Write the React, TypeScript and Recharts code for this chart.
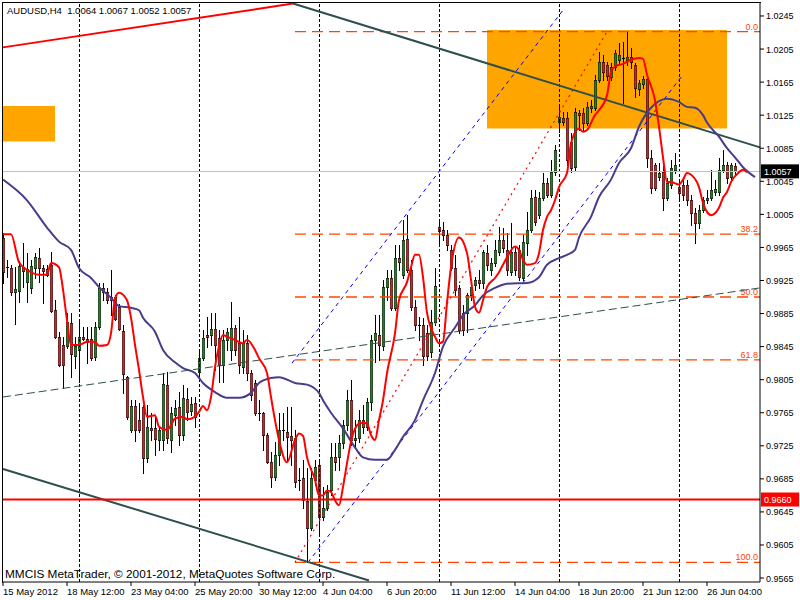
import React from "react";
import {
  ComposedChart,
  Bar,
  Line,
  XAxis,
  YAxis,
  ReferenceLine,
  ReferenceArea,
  ReferenceDot,
} from "recharts";

// AUDUSD H4, one entry per bar (bar 0 = 15 May 2012 20:00)
const symbol = "AUDUSD,H4";

const opens = [
  0.9976, 0.994, 0.994, 0.9911, 0.9912, 0.9941, 0.9923, 0.9916, 0.994, 0.9952,
  0.994, 0.9939, 0.9944, 0.9889, 0.9857, 0.9847, 0.9846, 0.9874, 0.9834, 0.9841,
  0.9857, 0.9854, 0.9854, 0.9832, 0.9869, 0.9916, 0.9911, 0.9905, 0.9905, 0.9893,
  0.9864, 0.9808, 0.9744, 0.9773, 0.9756, 0.9772, 0.971, 0.9746, 0.9746, 0.9732,
  0.9732, 0.9799, 0.9732, 0.9762, 0.9772, 0.9738, 0.9782, 0.9767, 0.9777, 0.9814,
  0.9831, 0.9859, 0.9859, 0.9866, 0.9855, 0.9823, 0.9853, 0.9841, 0.9868, 0.9849,
  0.982, 0.9849, 0.9813, 0.9801, 0.9765, 0.9765, 0.9738, 0.9705, 0.9687, 0.9714,
  0.9744, 0.9742, 0.9737, 0.9734, 0.9684, 0.9686, 0.9658, 0.9626, 0.9684, 0.9702,
  0.9639, 0.965, 0.9672, 0.9711, 0.9711, 0.9728, 0.975, 0.978, 0.9732, 0.9734,
  0.9756, 0.9748, 0.9778, 0.9853, 0.9859, 0.9846, 0.9917, 0.9928, 0.9892, 0.9952,
  0.9932, 0.9975, 0.9938, 0.9893, 0.9871, 0.9871, 0.9861, 0.9838, 0.9875, 0.999,
  0.9986, 0.998, 0.9962, 0.994, 0.9916, 0.9886, 0.9886, 0.9907, 0.992, 0.9926,
  0.9922, 0.9958, 0.9938, 0.9946, 0.996, 0.9974, 0.9962, 0.9935, 0.996, 0.9962,
  0.9928, 0.997, 0.9986, 1.0026, 1.0004, 1.0025, 1.0043, 1.0028, 1.0056, 1.0117,
  1.0122, 1.0122, 1.0093, 1.0062, 1.0128, 1.0128, 1.0116, 1.0134, 1.0134, 1.0168,
  1.0189, 1.0186, 1.0171, 1.0183, 1.0192, 1.0194, 1.0192, 1.0195, 1.0186, 1.0157,
  1.0163, 1.0169, 1.0073, 1.0065, 1.005, 1.0056, 1.0025, 1.0041, 1.0059, 1.0038,
  1.0041, 1.0041, 1.0022, 1.0007, 0.9995, 1.001, 1.0022, 1.0025, 1.0032, 1.0032,
  1.0059, 1.0065, 1.005, 1.0064,
];

const highs = [
  0.9982, 0.995, 0.9944, 0.9941, 0.9949, 0.997, 0.9958, 0.995, 0.9958, 0.9964,
  0.9944, 0.9944, 0.996, 0.9901, 0.9863, 0.9857, 0.9886, 0.9886, 0.9857, 0.9875,
  0.9869, 0.9869, 0.9869, 0.9875, 0.9922, 0.9922, 0.9916, 0.9938, 0.9907, 0.9897,
  0.9871, 0.981, 0.978, 0.978, 0.9777, 0.9774, 0.9774, 0.9765, 0.976, 0.9748,
  0.9813, 0.9814, 0.9772, 0.978, 0.979, 0.9799, 0.9795, 0.9784, 0.9784, 0.9841,
  0.9865, 0.9881, 0.9886, 0.9886, 0.9865, 0.9865, 0.9868, 0.9899, 0.9871, 0.9881,
  0.9865, 0.9859, 0.9817, 0.9805, 0.978, 0.9766, 0.974, 0.9717, 0.973, 0.9765,
  0.9765, 0.9772, 0.9772, 0.9744, 0.9698, 0.9708, 0.9698, 0.9698, 0.9708, 0.9708,
  0.9675, 0.9678, 0.9728, 0.9728, 0.9738, 0.9756, 0.9792, 0.9805, 0.9756, 0.9768,
  0.9774, 0.9783, 0.9859, 0.9883, 0.9883, 0.9926, 0.9938, 0.9938, 0.9968, 0.9968,
  0.9998, 1.0004, 0.995, 0.9901, 0.9881, 0.988, 0.9871, 0.9889, 0.994, 0.9996,
  0.9996, 0.9986, 0.9968, 0.9956, 0.992, 0.9895, 0.991, 0.9926, 0.9929, 0.9938,
  0.9962, 0.9968, 0.9952, 0.9974, 0.999, 0.9989, 0.9982, 0.9995, 0.9966, 0.9968,
  0.998, 1.0008, 1.0035, 1.0035, 1.0032, 1.0055, 1.0049, 1.0071, 1.0089, 1.0137,
  1.0129, 1.0129, 1.0103, 1.0134, 1.0131, 1.0134, 1.0141, 1.0143, 1.0174, 1.0201,
  1.0198, 1.0189, 1.0188, 1.0204, 1.0212, 1.0214, 1.0226, 1.0206, 1.0188, 1.0168,
  1.0172, 1.0172, 1.0083, 1.0067, 1.0067, 1.0067, 1.0049, 1.0071, 1.0079, 1.0047,
  1.0049, 1.0047, 1.0028, 1.0013, 1.0016, 1.0026, 1.0035, 1.0059, 1.0047, 1.0073,
  1.0083, 1.0068, 1.0067, 1.0067,
];

const lows = [
  0.9922, 0.9929, 0.9907, 0.9872, 0.9899, 0.9917, 0.9899, 0.991, 0.9928, 0.9923,
  0.9898, 0.993, 0.9887, 0.9855, 0.9821, 0.9795, 0.9843, 0.9808, 0.9819, 0.9802,
  0.9853, 0.9825, 0.9829, 0.9829, 0.9866, 0.9901, 0.9898, 0.9883, 0.9877, 0.9865,
  0.9789, 0.9757, 0.9742, 0.9731, 0.9742, 0.9692, 0.9705, 0.9732, 0.9714, 0.972,
  0.972, 0.9728, 0.9717, 0.975, 0.9726, 0.9732, 0.9756, 0.9762, 0.9748, 0.9807,
  0.9829, 0.9845, 0.9847, 0.9817, 0.9802, 0.9802, 0.9841, 0.9829, 0.9835, 0.9813,
  0.9813, 0.9805, 0.978, 0.9762, 0.9756, 0.972, 0.9704, 0.9675, 0.9684, 0.9702,
  0.9732, 0.9708, 0.9702, 0.9675, 0.9672, 0.965, 0.9584, 0.9623, 0.9678, 0.9617,
  0.9635, 0.9647, 0.9665, 0.9696, 0.9696, 0.9722, 0.9744, 0.9726, 0.9722, 0.973,
  0.974, 0.9744, 0.9768, 0.9826, 0.9829, 0.9841, 0.9901, 0.9889, 0.9889, 0.9938,
  0.9928, 0.9935, 0.9889, 0.9865, 0.9853, 0.9823, 0.9829, 0.9832, 0.9871, 0.9968,
  0.9974, 0.9962, 0.9938, 0.9907, 0.9861, 0.9859, 0.9863, 0.9901, 0.9914, 0.9916,
  0.9916, 0.9938, 0.9932, 0.9942, 0.9956, 0.996, 0.9932, 0.9932, 0.9932, 0.9926,
  0.9926, 0.9956, 0.9984, 0.9992, 1.0001, 1.0022, 1.0026, 1.0026, 1.0053, 1.0105,
  1.0113, 1.0059, 1.0056, 1.0059, 1.0107, 1.0107, 1.0113, 1.0129, 1.0131, 1.0165,
  1.0168, 1.0168, 1.0168, 1.018, 1.0188, 1.014, 1.0186, 1.0182, 1.0147, 1.0149,
  1.0158, 1.0062, 1.0031, 1.0035, 1.0047, 1.001, 1.0022, 1.0037, 1.0055, 1.0022,
  1.0022, 1.0016, 0.9992, 0.997, 0.9989, 1.0008, 1.0019, 1.0022, 1.0028, 1.0028,
  1.0056, 1.0043, 1.0047, 1.0052,
];

const closes = [
  0.9935, 0.9941, 0.9911, 0.9915, 0.9942, 0.9936, 0.9939, 0.9942, 0.9953, 0.994,
  0.9936, 0.9932, 0.9888, 0.9857, 0.9823, 0.9823, 0.9875, 0.9836, 0.9846, 0.9857,
  0.9854, 0.9851, 0.9831, 0.9869, 0.9916, 0.9911, 0.9901, 0.9901, 0.9878, 0.9866,
  0.9812, 0.976, 0.9773, 0.9744, 0.9744, 0.971, 0.9748, 0.9744, 0.9733, 0.9744,
  0.98, 0.9734, 0.9765, 0.9771, 0.9738, 0.9783, 0.9766, 0.9776, 0.976, 0.9831,
  0.9855, 0.9857, 0.9866, 0.9847, 0.9823, 0.9853, 0.9863, 0.9868, 0.9841, 0.9823,
  0.9849, 0.9813, 0.9786, 0.9765, 0.9763, 0.9738, 0.9705, 0.9687, 0.9714, 0.9744,
  0.9743, 0.9736, 0.9732, 0.9681, 0.9682, 0.9659, 0.9626, 0.9686, 0.9699, 0.9639,
  0.965, 0.9669, 0.9711, 0.9705, 0.9728, 0.975, 0.978, 0.9732, 0.9734, 0.9756,
  0.9748, 0.9778, 0.9853, 0.9861, 0.9847, 0.9917, 0.9928, 0.9892, 0.9952, 0.9947,
  0.9974, 0.9938, 0.9893, 0.9871, 0.987, 0.9834, 0.9834, 0.9875, 0.9918, 0.9985,
  0.998, 0.9968, 0.994, 0.9914, 0.9865, 0.9865, 0.9907, 0.9917, 0.9926, 0.9922,
  0.996, 0.9944, 0.9946, 0.9962, 0.9974, 0.9964, 0.9938, 0.996, 0.9938, 0.9929,
  0.9972, 0.9986, 1.0025, 0.9996, 1.0025, 1.0043, 1.0028, 1.0056, 1.0083, 1.0123,
  1.0117, 1.0071, 1.0061, 1.0129, 1.0125, 1.0116, 1.0135, 1.0136, 1.0168, 1.0189,
  1.0177, 1.0172, 1.0183, 1.02, 1.0198, 1.0193, 1.0195, 1.0189, 1.0158, 1.0164,
  1.0169, 1.0073, 1.0037, 1.0037, 1.0055, 1.0025, 1.0043, 1.0061, 1.0065, 1.0031,
  1.0028, 1.0022, 1.0007, 0.9995, 1.001, 1.0022, 1.0025, 1.0035, 1.0036, 1.0059,
  1.0065, 1.0049, 1.0065, 1.0057,
];

// [bar, price] samples of the two moving averages (both drawn shifted forward)
const fastMa = [
  [0, 0.9981], [2, 0.9981], [4, 0.9947], [6, 0.9938], [9, 0.9932], [11, 0.9932],
  [12, 0.9946], [14, 0.9941], [15, 0.9914], [16, 0.9877], [17, 0.9847], [19, 0.9847],
  [21, 0.9851], [23, 0.9851], [24, 0.9846], [26, 0.9847], [27, 0.9861], [28, 0.9903],
  [29, 0.991], [31, 0.9901], [32, 0.988], [33, 0.9847], [34, 0.9817], [35, 0.9784],
  [36, 0.976], [38, 0.9762], [39, 0.9748], [41, 0.9744], [42, 0.975], [43, 0.9758],
  [45, 0.976], [46, 0.9757], [48, 0.976], [49, 0.9766], [50, 0.9773], [51, 0.9768],
  [52, 0.9784], [53, 0.982], [54, 0.9845], [55, 0.9859], [56, 0.9857], [58, 0.9853],
  [60, 0.9849], [61, 0.9853], [63, 0.9841], [64, 0.9831], [66, 0.9813], [67, 0.9784],
  [68, 0.9756], [69, 0.9732], [71, 0.9705], [73, 0.9732], [74, 0.974], [75, 0.9737],
  [76, 0.9711], [78, 0.9684], [79, 0.9665], [80, 0.9665], [81, 0.9671], [82, 0.9669],
  [83, 0.9659], [84, 0.9653], [85, 0.9675], [86, 0.9704], [87, 0.973], [89, 0.9752],
  [90, 0.9753], [91, 0.9752], [92, 0.9738], [93, 0.9732], [94, 0.9756], [95, 0.978],
  [96, 0.9813], [98, 0.9861], [99, 0.9901], [101, 0.9923], [102, 0.9941], [103, 0.9956],
  [104, 0.9956], [105, 0.9929], [106, 0.9886], [108, 0.9857], [109, 0.9849], [110, 0.9851],
  [111, 0.9898], [112, 0.9941], [114, 0.9977], [116, 0.9958], [117, 0.9926], [118, 0.9893],
  [119, 0.9886], [120, 0.9901], [121, 0.9917], [123, 0.9928], [124, 0.9935], [125, 0.9944],
  [126, 0.9953], [128, 0.9966], [129, 0.9962], [130, 0.995], [131, 0.9944], [133, 0.9946],
  [134, 0.9958], [135, 0.9986], [136, 1.0002], [137, 1.001], [138, 1.0022], [139, 1.0038],
  [141, 1.0055], [142, 1.0091], [144, 1.0109], [145, 1.0105], [146, 1.0107], [148, 1.0125],
  [149, 1.0131], [151, 1.0149], [152, 1.0177], [153, 1.0184], [155, 1.0187], [157, 1.0192],
  [159, 1.0194], [160, 1.0193], [161, 1.0174], [163, 1.0143], [164, 1.0111], [165, 1.0074],
  [166, 1.0044], [167, 1.0044], [169, 1.0041], [170, 1.0047], [171, 1.0055], [172, 1.0053],
  [174, 1.0038], [175, 1.0019], [176, 1.0008], [177, 1.0004], [179, 1.0013], [180, 1.0025],
  [181, 1.0032], [182, 1.0044], [184, 1.0056], [185, 1.0059], [186, 1.0056],
];

const slowMa = [
  [0, 1.0047], [6, 1.0022], [11, 0.9989], [14, 0.9972], [17, 0.9962], [19, 0.994],
  [22, 0.9928], [24, 0.9917], [27, 0.9904], [29, 0.9894], [32, 0.9892], [34, 0.9889],
  [35, 0.988], [38, 0.9863], [40, 0.9841], [43, 0.9826], [45, 0.9819], [48, 0.9813],
  [50, 0.9801], [53, 0.979], [56, 0.9783], [59, 0.9783], [62, 0.9789], [64, 0.9801],
  [67, 0.9807], [69, 0.9808], [73, 0.9801], [76, 0.9799], [79, 0.9789], [80, 0.978],
  [82, 0.9765], [85, 0.9746], [88, 0.9723], [90, 0.9711], [93, 0.9708], [96, 0.9708],
  [98, 0.972], [100, 0.9736], [103, 0.9756], [105, 0.978], [108, 0.9813], [110, 0.9845],
  [113, 0.9868], [115, 0.9883], [118, 0.9895], [120, 0.9907], [123, 0.9916], [126, 0.9921],
  [131, 0.9922], [134, 0.9929], [136, 0.9944], [139, 0.9952], [141, 0.9956], [143, 0.9962],
  [144, 0.9977], [147, 1.0002], [149, 1.0026], [152, 1.0047], [154, 1.0067], [157, 1.0085],
  [159, 1.0111], [162, 1.0134], [164, 1.0142], [166, 1.0145], [169, 1.0141], [171, 1.0135],
  [173, 1.0134], [175, 1.0125], [176, 1.0116], [179, 1.0099], [181, 1.0085], [183, 1.0074],
  [185, 1.0062], [188, 1.005],
];

const timeTickBars = [0, 16, 32, 48, 64, 80, 96, 112, 128, 144, 160, 176];
const timeTickLabels = [
  "15 May 2012", "18 May 12:00", "23 May 04:00", "25 May 20:00", "30 May 12:00", "4 Jun 04:00",
  "6 Jun 20:00", "11 Jun 12:00", "14 Jun 04:00", "18 Jun 20:00", "21 Jun 12:00", "26 Jun 04:00",
];
const priceTicks = [
  1.0245, 1.0205, 1.0165, 1.0125, 1.0085, 1.0045, 1.0005, 0.9965, 0.9925,
  0.9885, 0.9845, 0.9805, 0.9765, 0.9725, 0.9685, 0.9645, 0.9605, 0.9565,
];
const gridBars = [19, 49, 79, 109, 139, 169];

// drawn objects, as [bar, price] end points
const redTrend = [[0, 1.0207], [72.5, 1.026]];
const slateUpper = [[72.5, 1.026], [189.25, 1.0086]];
const slateLower = [[0, 0.9697], [91.5, 0.9562]];
const slateDashed = [[0, 0.9784], [189.25, 0.9916]];
const channelLow = [[76.25, 0.9584], [170, 1.0174]];
const channelHigh = [[72.25, 0.9825], [140, 1.0252]];
const fibDiagonal = [[73, 0.9584], [151, 1.0226]];
const fibStartBar = 73;
const fibLevels = [1.0226, 0.9981, 0.9905, 0.9829, 0.9584];
const fibLabels = ["0.0", "38.2", "50.0", "61.8", "100.0"];
const leftBox = { bars: [0, 13], prices: [1.0093, 1.0136] };
const topBox = { bars: [121, 181], prices: [1.0109, 1.0228] };
const bidPrice = 1.0057;
const alertPrice = 0.966;

const PRICE_MIN = 0.95602;
const PRICE_MAX = 1.02619;
const BAR_MAX = 189.25;

const FONT = '"Liberation Sans", Arial, sans-serif';
const BULL = "#138A13";
const BEAR = "#E81818";
const SLATE = "#2F4F4F";
const FIB = "#FF4500";

const candles = opens.map((o, i) => ({
  i,
  o,
  h: highs[i],
  l: lows[i],
  c: closes[i],
  range: [lows[i], highs[i]],
}));

const toPoints = (pairs: number[][]) => pairs.map(([i, p]) => ({ i, p }));
const seg = (pairs: number[][]) => pairs.map(([x, y]) => ({ x, y }));

function Candle(props: any) {
  const { x, y, width, height, payload } = props;
  if (x == null || y == null || !payload) return null;
  const top = Math.min(y, y + height);
  const bottom = Math.max(y, y + height);
  const { o, h, l, c } = payload;
  const span = h - l || 1;
  const toY = (v: number) => top + ((h - v) / span) * (bottom - top);
  const cx = Math.round(x + width / 2);
  const bTop = Math.round(toY(Math.max(o, c)));
  const bBot = Math.round(toY(Math.min(o, c)));
  const bh = bBot - bTop;
  return (
    <g>
      <rect x={cx} y={Math.round(top)} width={1} height={Math.max(1, Math.round(bottom) - Math.round(top) + 1)} fill="#000" />
      {bh < 2 ? (
        <rect x={cx - 1} y={bTop} width={3} height={1} fill="#000" />
      ) : (
        <rect
          x={cx - 0.75}
          y={bTop + 0.25}
          width={2.5}
          height={bh + 0.5}
          fill={c > o ? BULL : BEAR}
          stroke="#000"
          strokeWidth={0.5}
        />
      )}
    </g>
  );
}

function TimeTick({ x, y, payload }: any) {
  const label = timeTickLabels[timeTickBars.indexOf(payload.value)];
  return (
    <text x={x} y={y + 7} fontSize={9.5} fontFamily={FONT} fill="#000" textAnchor="start">
      {label}
    </text>
  );
}

function PriceTick({ x, y, payload }: any) {
  return (
    <text x={x} y={y + 3.5} fontSize={9} fontFamily={FONT} fill="#000" textAnchor="start">
      {payload.value.toFixed(4)}
    </text>
  );
}

const priceTag = (text: string, bg: string) => (props: any) => {
  const vb = props.viewBox || {};
  const right = (vb.x || 0) + (vb.width || 0);
  const cy = vb.y || 0;
  return (
    <g>
      <rect x={right + 1} y={cy - 7} width={38} height={14} fill={bg} />
      <text x={right + 4} y={cy + 3.5} fontSize={9} fontFamily={FONT} fill="#fff">
        {text}
      </text>
    </g>
  );
};

const fibText = (text: string) => (props: any) => (
  <text x={props.cx} y={props.cy - 2} fontSize={9} fontFamily={FONT} fill={FIB} textAnchor="end">
    {text}
  </text>
);

export default function App() {
  const last = candles[candles.length - 1];
  const title = `${symbol}  ${last.o.toFixed(4)} ${last.h.toFixed(4)} ${last.l.toFixed(4)} ${last.c.toFixed(4)}`;

  return (
    <div style={{ position: "absolute", left: 0, top: 0, width: 800, height: 600, background: "#fff", overflow: "hidden" }}>
      <ComposedChart
        width={800}
        height={600}
        data={candles}
        margin={{ top: 2, right: 0, bottom: 0, left: 3 }}
        style={{ fontFamily: FONT }}
      >
        <XAxis
          dataKey="i"
          type="number"
          domain={[0, BAR_MAX]}
          allowDataOverflow
          ticks={timeTickBars}
          interval={0}
          height={18}
          tickSize={4}
          tickMargin={2}
          tick={<TimeTick />}
          axisLine={{ stroke: "#000" }}
          tickLine={{ stroke: "#000" }}
        />
        <YAxis
          orientation="right"
          type="number"
          domain={[PRICE_MIN, PRICE_MAX]}
          allowDataOverflow
          ticks={priceTicks}
          interval={0}
          width={40}
          tickSize={4}
          tickMargin={2}
          tick={<PriceTick />}
          axisLine={{ stroke: "#000" }}
          tickLine={{ stroke: "#000" }}
        />

        <ReferenceArea x1={leftBox.bars[0]} x2={leftBox.bars[1]} y1={leftBox.prices[0]} y2={leftBox.prices[1]} fill="#FFA500" fillOpacity={1} stroke="none" />
        <ReferenceArea x1={topBox.bars[0]} x2={topBox.bars[1]} y1={topBox.prices[0]} y2={topBox.prices[1]} fill="#FFA500" fillOpacity={1} stroke="none" />

        {gridBars.map((b) => (
          <ReferenceLine key={`g${b}`} x={b} stroke="#000" strokeDasharray="3 2" shapeRendering="crispEdges" />
        ))}

        <ReferenceLine y={bidPrice} stroke="#C0C0C0" shapeRendering="crispEdges" label={priceTag(bidPrice.toFixed(4), "#000")} />

        {fibLevels.map((lv, k) => (
          <ReferenceLine
            key={`f${k}`}
            segment={seg([[fibStartBar, lv], [BAR_MAX, lv]])}
            stroke={FIB}
            strokeWidth={1.3}
            strokeOpacity={1}
            strokeDasharray="11 6"
          />
        ))}
        <ReferenceLine segment={seg(fibDiagonal)} stroke="#FF0000" strokeWidth={1.2} strokeDasharray="2 4" />
        <ReferenceLine segment={seg(channelLow)} stroke="#0000FF" strokeDasharray="4 4" />
        <ReferenceLine segment={seg(channelHigh)} stroke="#0000FF" strokeDasharray="4 4" />
        <ReferenceLine segment={seg(slateDashed)} stroke={SLATE} strokeDasharray="8 4" />
        <ReferenceLine segment={seg(slateUpper)} stroke={SLATE} strokeWidth={2} />
        <ReferenceLine segment={seg(slateLower)} stroke={SLATE} strokeWidth={2} />
        <ReferenceLine segment={seg(redTrend)} stroke="#FF0000" strokeWidth={2} />
        <ReferenceLine y={alertPrice} stroke="#FF0000" strokeWidth={2} label={priceTag(alertPrice.toFixed(4), "#FF0000")} />

        {fibLevels.map((lv, k) => (
          <ReferenceDot key={`fl${k}`} x={188.75} y={lv} r={0} ifOverflow="visible" shape={fibText(fibLabels[k])} />
        ))}

        <Bar dataKey="range" barSize={3} shape={<Candle />} isAnimationActive={false} />

        <Line
          data={toPoints(slowMa)}
          dataKey="p"
          type="monotone"
          stroke="#483D8B"
          strokeWidth={2}
          dot={false}
          activeDot={false}
          isAnimationActive={false}
        />
        <Line
          data={toPoints(fastMa)}
          dataKey="p"
          type="monotone"
          stroke="#FF0000"
          strokeWidth={2}
          dot={false}
          activeDot={false}
          isAnimationActive={false}
        />
      </ComposedChart>

      <div
        style={{
          position: "absolute",
          left: 2,
          top: 2,
          width: 759,
          height: 581,
          borderLeft: "1px solid #000",
          borderTop: "1px solid #000",
          boxSizing: "border-box",
          pointerEvents: "none",
        }}
      />
      <div style={{ position: "absolute", left: 7, top: 5, fontFamily: FONT, fontSize: 9.5, lineHeight: "12px", whiteSpace: "pre", color: "#000" }}>
        {title}
      </div>
      <div style={{ position: "absolute", left: 5, top: 567, fontFamily: FONT, fontSize: 11.8, lineHeight: "14px", whiteSpace: "pre", color: "#000" }}>
        MMCIS MetaTrader, © 2001-2012, MetaQuotes Software Corp.
      </div>
    </div>
  );
}
